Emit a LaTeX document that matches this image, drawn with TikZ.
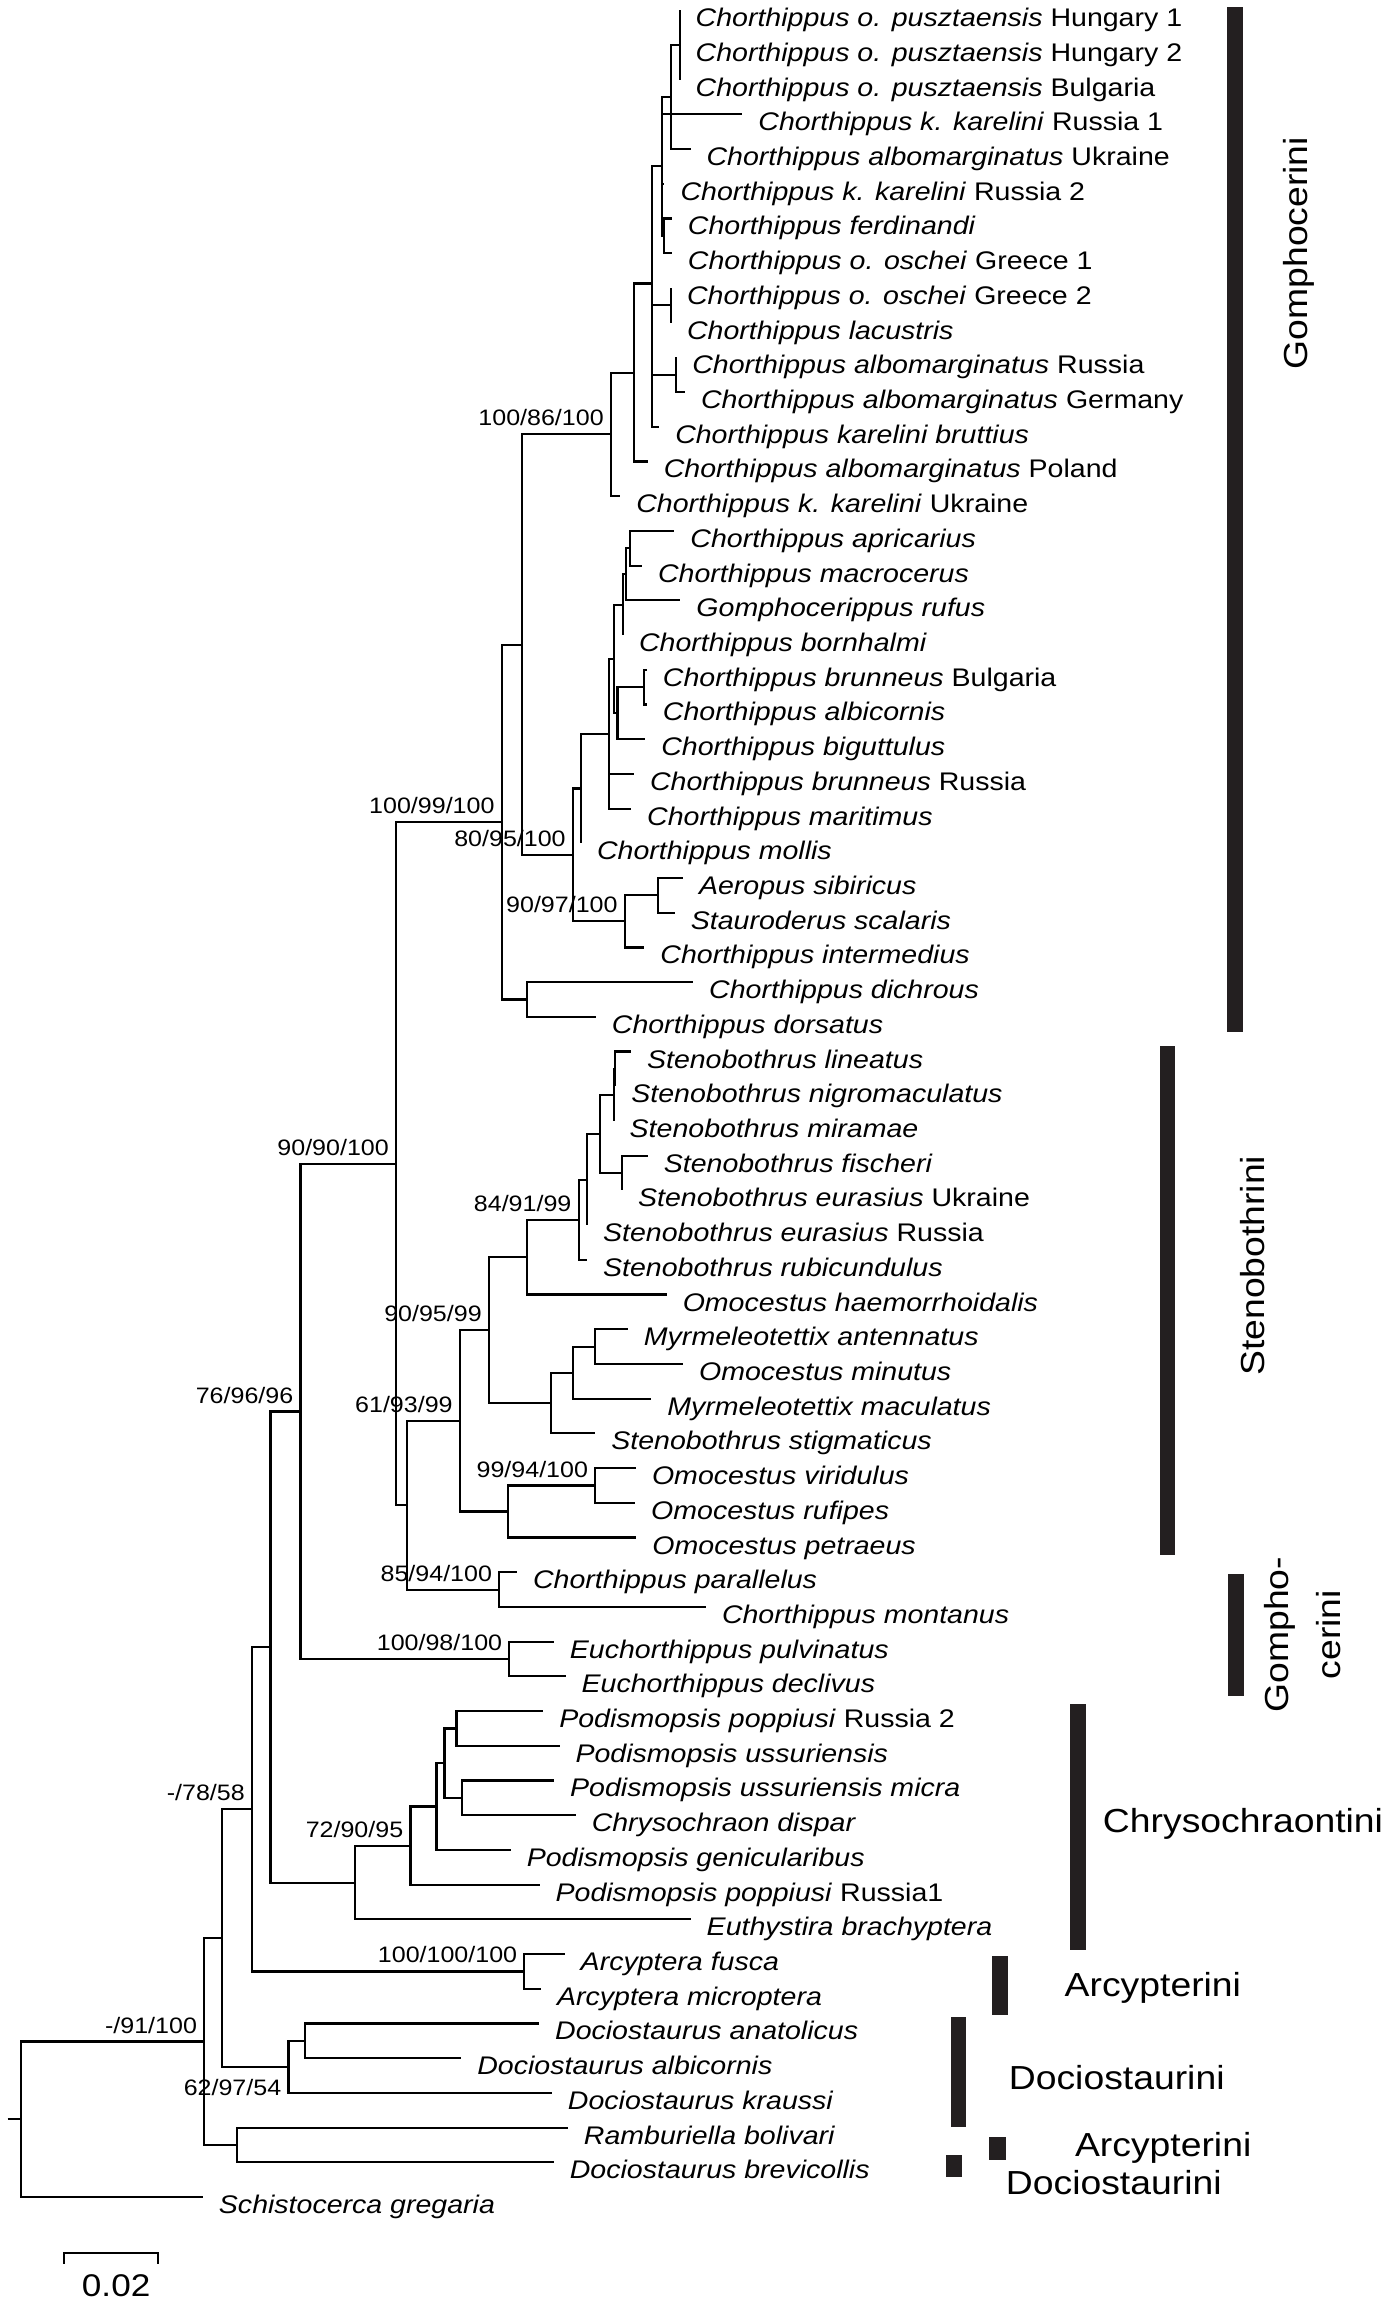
\documentclass[tikz,border=0pt]{standalone}
\usepackage{fontspec}
\setmainfont{Liberation Sans}[FakeStretch=1.12]
\usetikzlibrary{positioning}
\definecolor{barcol}{HTML}{231F20}

\begin{document}
\begin{tikzpicture}[x=0.75pt, y=-17.709pt,
    branch/.style={line width=1.1pt},
    taxon/.style={font=\fontsize{13}{15}\selectfont, inner sep=0pt, anchor=base west},
    boot/.style={font=\fontsize{11.4}{13}\selectfont, inner sep=0pt},
    tribe/.style={font=\fontsize{17}{20}\selectfont, inner sep=0pt},
    tribebar/.style={fill=barcol}]
\useasboundingbox (0,0.706) rectangle (948,67.11);

% leaf tips and names (row = leaf number)
\foreach \i/\x/\t in {
    1/462.3/{\textit{Chorthippus o. pusztaensis} Hungary 1},
    2/462.3/{\textit{Chorthippus o. pusztaensis} Hungary 2},
    3/462.3/{\textit{Chorthippus o. pusztaensis} Bulgaria},
    4/505/{\textit{Chorthippus k. karelini} Russia 1},
    5/469.7/{\textit{Chorthippus albomarginatus} Ukraine},
    6/452/{\textit{Chorthippus k. karelini} Russia 2},
    7/457/{\textit{Chorthippus ferdinandi}},
    8/457/{\textit{Chorthippus o. oschei} Greece 1},
    9/456.4/{\textit{Chorthippus o. oschei} Greece 2},
    10/456.4/{\textit{Chorthippus lacustris}},
    11/460/{\textit{Chorthippus albomarginatus} Russia},
    12/466/{\textit{Chorthippus albomarginatus} Germany},
    13/448.4/{\textit{Chorthippus karelini bruttius}},
    14/440.6/{\textit{Chorthippus albomarginatus} Poland},
    15/421.9/{\textit{Chorthippus k. karelini} Ukraine},
    16/458.7/{\textit{Chorthippus apricarius}},
    17/436.7/{\textit{Chorthippus macrocerus}},
    18/462.8/{\textit{Gomphocerippus rufus}},
    19/423.8/{\textit{Chorthippus bornhalmi}},
    20/440/{\textit{Chorthippus brunneus} Bulgaria},
    21/440/{\textit{Chorthippus albicornis}},
    22/438.9/{\textit{Chorthippus biguttulus}},
    23/431.3/{\textit{Chorthippus brunneus} Russia},
    24/429.3/{\textit{Chorthippus maritimus}},
    25/395.2/{\textit{Chorthippus mollis}},
    26/464.6/{\textit{Aeropus sibiricus}},
    27/459/{\textit{Stauroderus scalaris}},
    28/438.3/{\textit{Chorthippus intermedius}},
    29/471.5/{\textit{Chorthippus dichrous}},
    30/405.3/{\textit{Chorthippus dorsatus}},
    31/429.2/{\textit{Stenobothrus lineatus}},
    32/418.5/{\textit{Stenobothrus nigromaculatus}},
    33/417.4/{\textit{Stenobothrus miramae}},
    34/440.6/{\textit{Stenobothrus fischeri}},
    35/423.1/{\textit{Stenobothrus eurasius} Ukraine},
    36/399.3/{\textit{Stenobothrus eurasius} Russia},
    37/399.3/{\textit{Stenobothrus rubicundulus}},
    38/453.5/{\textit{Omocestus haemorrhoidalis}},
    39/427.1/{\textit{Myrmeleotettix antennatus}},
    40/464.6/{\textit{Omocestus minutus}},
    41/443/{\textit{Myrmeleotettix maculatus}},
    42/404.9/{\textit{Stenobothrus stigmaticus}},
    43/432.6/{\textit{Omocestus viridulus}},
    44/432/{\textit{Omocestus rufipes}},
    45/432.9/{\textit{Omocestus petraeus}},
    46/351.7/{\textit{Chorthippus parallelus}},
    47/480.2/{\textit{Chorthippus montanus}},
    48/376.7/{\textit{Euchorthippus pulvinatus}},
    49/384.7/{\textit{Euchorthippus declivus}},
    50/369.5/{\textit{Podismopsis poppiusi} Russia 2},
    51/380.6/{\textit{Podismopsis ussuriensis}},
    52/376.9/{\textit{Podismopsis ussuriensis micra}},
    53/391.6/{\textit{Chrysochraon dispar}},
    54/347.4/{\textit{Podismopsis genicularibus}},
    55/367/{\textit{Podismopsis poppiusi} Russia1},
    56/469.8/{\textit{Euthystira brachyptera}},
    57/384.1/{\textit{Arcyptera fusca}},
    58/368/{\textit{Arcyptera microptera}},
    59/366.7/{\textit{Dociostaurus anatolicus}},
    60/313.8/{\textit{Dociostaurus albicornis}},
    61/375.4/{\textit{Dociostaurus kraussi}},
    62/386.3/{\textit{Ramburiella bolivari}},
    63/376.7/{\textit{Dociostaurus brevicollis}},
    64/138/{\textit{Schistocerca gregaria}}}
{
    \coordinate (l\i) at (\x,\i);
    \node[taxon] (t\i) at ([xshift=8pt, yshift=-8.4pt]l\i) {\t};
}

% internal nodes
\foreach \n/\x/\y in {N1/462.3/2, N2/456.4/3.5, N3/450.3/5.5, N4/451.4/7.5,
    N5/456.4/9.5, N7/460/11.5, N8/443.7/12.25, N6/443.6/8.875, N9/431.2/11.44,
    N10/415.6/13.22, Na/428.7/16.5, Nb/426/17.25, Nc/423.8/18.125, Nd/438.3/20.5,
    Ne/420/21.25, Nf/417.5/19.69, Ng/414.2/21.84, Nh/395.2/23.42, Nx/447.5/26.5,
    Nj/425/27.25, Ni/389.7/25.34, Nk/355/19.28, Nm/358.4/29.5, Nl/341.3/24.39,
    S0/418.5/31.5, S1/417.4/32.25, S2/423.1/34.5, S3/408.3/33.375, S4/399.3/34.69,
    S5/393.6/35.84, S6/358.7/36.92, S9/404.5/39.5, S10/390/40.25, S11/375/41.125,
    S7/332.6/39.02, S14/404.9/43.5, S13/345.7/44.25, S12/312.8/41.64,
    S15/339.6/46.5, S16/277/44.07, G1/269.4/34.23, E1/346.5/48.5, G2/204.4/41.37,
    C1/310.5/50.5, C2/314.2/52.5, C3/302.4/51.5, C4/296.9/52.75, C5/279.2/53.875,
    C6/241.5/54.94, G3/184/48.15, A1/356.7/57.5, G4/171.4/52.83, D1/207.5/59.5,
    D2/196.2/60.25, G5/151/56.54, R1/161.5/62.5, G6/138.9/59.52, root/14.3/61.76,
    rootstub/5.2/61.76}
    \coordinate (\n) at (\x,\y);

% branches
\foreach \p/\c in {N1/l1, N1/l2, N1/l3, N2/N1, N2/l5, N3/N2, N3/l4, N3/l6, N3/N4,
    N4/l7, N4/l8, N5/l9, N5/l10, N7/l11, N7/l12, N8/N7, N8/l13, N6/N3, N6/N5, N6/N8,
    N9/N6, N9/l14, N10/N9, N10/l15,
    Na/l16, Na/l17, Nb/Na, Nb/l18, Nc/Nb, Nc/l19, Nd/l20, Nd/l21, Ne/Nd, Ne/l22,
    Nf/Nc, Nf/Ne, Ng/Nf, Ng/l23, Ng/l24, Nh/Ng, Nh/l25, Nx/l26, Nx/l27, Nj/Nx, Nj/l28,
    Ni/Nh, Ni/Nj, Nk/N10, Nk/Ni, Nm/l29, Nm/l30, Nl/Nk, Nl/Nm,
    S0/l31, S0/l32, S1/S0, S1/l33, S2/l34, S2/l35, S3/S1, S3/S2, S4/S3, S4/l36,
    S5/S4, S5/l37, S6/S5, S6/l38, S9/l39, S9/l40, S10/S9, S10/l41, S11/S10, S11/l42,
    S7/S6, S7/S11, S14/l43, S14/l44, S13/S14, S13/l45, S12/S7, S12/S13,
    S15/l46, S15/l47, S16/S12, S16/S15, G1/Nl, G1/S16, E1/l48, E1/l49, G2/G1, G2/E1,
    C1/l50, C1/l51, C2/l52, C2/l53, C3/C1, C3/C2, C4/C3, C4/l54, C5/C4, C5/l55,
    C6/C5, C6/l56, G3/G2, G3/C6, A1/l57, A1/l58, G4/G3, G4/A1, D1/l59, D1/l60,
    D2/D1, D2/l61, G5/G4, G5/D2, R1/l62, R1/l63, G6/G5, G6/R1, root/G6, root/l64}
    \draw[branch] (\p) |- (\c);
\draw[branch] (rootstub) -- (root);

% support values
\node[boot, above left=4pt and 3.5pt of N10] (bN10) {100/86/100};
\node[boot, above left=4pt and 3.5pt of Nl] (bNl) {100/99/100};
\node[boot, above left=4pt and 3.5pt of Ni] (bNi) {80/95/100};
\node[boot, above left=4pt and 3.5pt of Nj] (bNj) {90/97/100};
\node[boot, above left=4pt and 3.5pt of G1] (bG1) {90/90/100};
\node[boot, above left=4pt and 3.5pt of S5] (bS5) {84/91/99};
\node[boot, above left=4pt and 3.5pt of S7] (bS7) {90/95/99};
\node[boot, above left=4pt and 3.5pt of S12] (bS12) {61/93/99};
\node[boot, above left=4pt and 3.5pt of S14] (bS14) {99/94/100};
\node[boot, above left=4pt and 3.5pt of S15] (bS15) {85/94/100};
\node[boot, above left=4pt and 3.5pt of E1] (bE1) {100/98/100};
\node[boot, above left=4pt and 3.5pt of G2] (bG2) {76/96/96};
\node[boot, above left=4pt and 3.5pt of C5] (bC5) {72/90/95};
\node[boot, above left=4pt and 3.5pt of G4] (bG4) {-/78/58};
\node[boot, above left=4pt and 3.5pt of A1] (bA1) {100/100/100};
\node[boot, above left=4pt and 3.5pt of G6] (bG6) {-/91/100};
\node[boot, below left=6pt and 3.5pt of D2] (bD2) {62/97/54};

% tribe bars
\fill[tribebar] (834.4,0.90) rectangle (845.5,30.44);
\fill[tribebar] (789,30.84) rectangle (799.6,45.49);
\fill[tribebar] (835.5,46.06) rectangle (846.1,49.56);
\fill[tribebar] (727.7,49.79) rectangle (738.4,56.89);
\fill[tribebar] (675.1,57.06) rectangle (685.8,58.75);
\fill[tribebar] (647,58.8) rectangle (657.4,61.98);
\fill[tribebar] (672.6,62.27) rectangle (684,62.93);
\fill[tribebar] (643.8,62.79) rectangle (654.7,63.41);

% tribe names
\node[tribe, rotate=90] (gomph) at (883.6,8.0) {Gomphocerini};
\node[tribe, rotate=90] (steno) at (852.3,37.17) {Stenobothrini};
\node[tribe, rotate=90, align=center, font=\fontsize{17}{26.5}\selectfont] (gomph2) at (886,47.8) {Gompho-\\cerini};
\node[tribe, anchor=west] (chryso) at (750,53.26) {Chrysochraontini};
\node[tribe, anchor=west] (arcy) at (724,57.96) {Arcypterini};
\node[tribe, anchor=west] (docio) at (686,60.55) {Dociostaurini};
\node[tribe, anchor=west] (arcy2) at (731,62.58) {Arcypterini};
\node[tribe, anchor=west] (docio2) at (684,63.58) {Dociostaurini};

% scale bar
\coordinate (sb1) at (43.4,65.92);
\coordinate (sb2) at (43.4,65.6);
\coordinate (sb3) at (107.6,65.6);
\coordinate (sb4) at (107.6,65.92);
\draw[branch] (sb1) -- (sb2) -- (sb3) -- (sb4);
\node[font=\fontsize{16}{18}\selectfont, inner sep=0pt] (sblabel) at (79,66.56) {0.02};
\end{tikzpicture}
\end{document}
